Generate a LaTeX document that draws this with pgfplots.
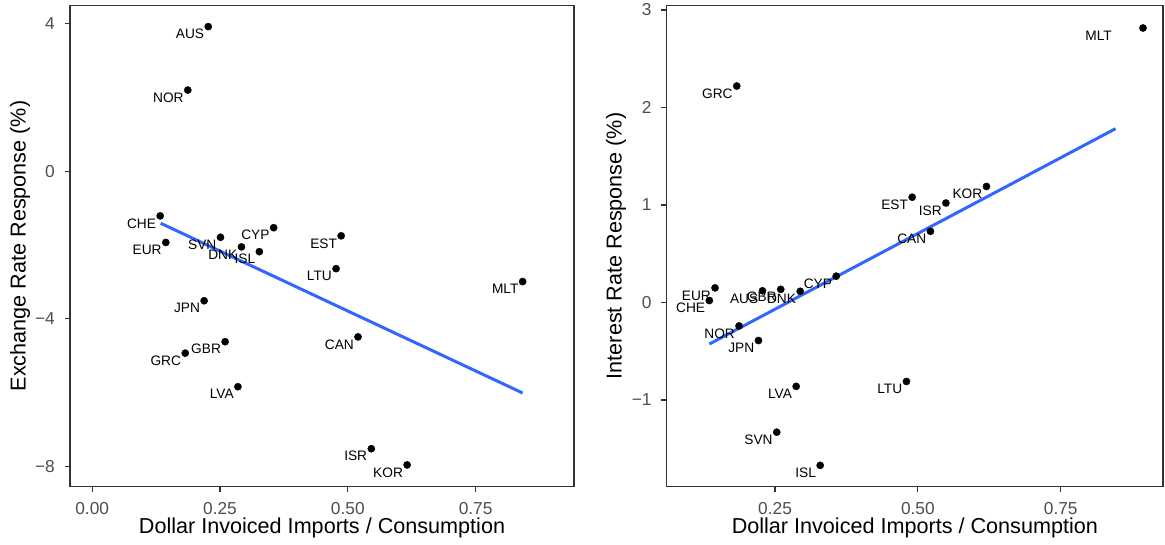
\documentclass[border=0pt]{standalone}
\usepackage{fontspec}
\setmainfont{Liberation Sans}
\usepackage{pgfplots}
\pgfplotsset{compat=1.18}
\usepackage{pgfplotstable}
\definecolor{tickgrey}{HTML}{4D4D4D}
\definecolor{bordergrey}{HTML}{333333}
\definecolor{smoothblue}{HTML}{3366FF}

\pgfplotstableread{
x y lab dx
0.227 3.92 AUS -4
0.187 2.20 NOR -4
0.133 -1.21 CHE -4
0.144 -1.93 EUR -4
0.251 -1.79 SVN -4
0.292 -2.05 DNK -4
0.327 -2.18 ISL -4
0.355 -1.53 CYP -4
0.487 -1.75 EST -4
0.477 -2.64 LTU -4
0.842 -2.99 MLT -4
0.219 -3.51 JPN -4
0.520 -4.49 CAN -4
0.260 -4.62 GBR -4
0.182 -4.93 GRC -4
0.285 -5.84 LVA -4
0.546 -7.52 ISR -4
0.616 -7.96 KOR -4
}\lefttab

\pgfplotstableread{
x y lab dx
0.228 0.12 AUS -4
0.260 0.135 GBR -4
0.294 0.115 DNK -4
0.187 -0.24 NOR -4
0.221 -0.39 JPN -4
0.145 0.15 EUR -4
0.135 0.02 CHE -4
0.357 0.27 CYP -4
0.183 2.22 GRC -4
0.490 1.08 EST -4
0.549 1.02 ISR -4
0.620 1.19 KOR -4
0.522 0.73 CAN -4
0.287 -0.86 LVA -4
0.480 -0.81 LTU -4
0.253 -1.33 SVN -4
0.329 -1.67 ISL -4
0.894 2.815 MLT -31
}\righttab

\pgfplotsset{
  myaxis/.style={
    scale only axis,
    clip=false,
    tick align=outside,
    xtick pos=lower, ytick pos=left,
    major tick length=5.4pt,
    axis line style={bordergrey, line width=1.1pt},
    tick style={bordergrey, line width=1.1pt},
    ticklabel style={font=\fontsize{17.3}{20}\selectfont, text=tickgrey},
    label style={font=\fontsize{21.6}{25}\selectfont, text=black},
    xticklabel style={anchor=north, inner sep=0pt, yshift=-10.3pt},
    yticklabel style={anchor=east, inner sep=0pt, xshift=-9.6pt},
    xtick={0,0.25,0.5,0.75},
    xticklabels={0.00,0.25,0.50,0.75},
  },
  pts/.style={
    only marks, mark=*, mark size=3.6pt, black,
    nodes near coords, point meta=explicit symbolic,
    visualization depends on={\thisrow{dx} \as \labdx},
    every node near coord/.append style={anchor=north east, inner sep=0pt,
      xshift=\labdx pt, yshift=-2.5pt, font=\fontsize{13.7}{16}\selectfont, text=black},
  },
}

\begin{document}
\begin{tikzpicture}
\useasboundingbox (0pt,0pt) rectangle (1165pt,544pt);
\begin{axis}[myaxis,
  at={(70pt,57.3pt)}, anchor=south west,
  width=504pt, height=481.5pt,
  xmin=-0.0434, xmax=0.9425, ymin=-8.55, ymax=4.50,
  ytick={-8,-4,0,4}, yticklabels={−8,−4,0,4},
  xlabel={Dollar Invoiced Imports / Consumption},
  ylabel={Exchange Rate Response (\%)},
  xlabel style={at={(axis description cs:0.5,-0.0857)}, anchor=center},
  ylabel style={at={(axis description cs:-0.0992,0.5)}, anchor=center},
]
\addplot[pts] table[x=x, y=y, meta=lab] {\lefttab};
\addplot[smoothblue, line width=3pt] coordinates {(0.134,-1.41) (0.842,-6.01)};
\end{axis}
\begin{axis}[myaxis,
  at={(666.7pt,57.3pt)}, anchor=south west,
  width=496.3pt, height=481.5pt,
  xmin=0.0604, xmax=0.929, ymin=-1.889, ymax=3.049,
  ytick={-1,0,1,2,3}, yticklabels={−1,0,1,2,3},
  xlabel={Dollar Invoiced Imports / Consumption},
  ylabel={Interest Rate Response (\%)},
  xlabel style={at={(axis description cs:0.5,-0.0857)}, anchor=center},
  ylabel style={at={(axis description cs:-0.102,0.5)}, anchor=center},
]
\addplot[pts] table[x=x, y=y, meta=lab] {\righttab};
\addplot[smoothblue, line width=3pt] coordinates {(0.135,-0.426) (0.846,1.783)};
\end{axis}
\end{tikzpicture}
\end{document}
